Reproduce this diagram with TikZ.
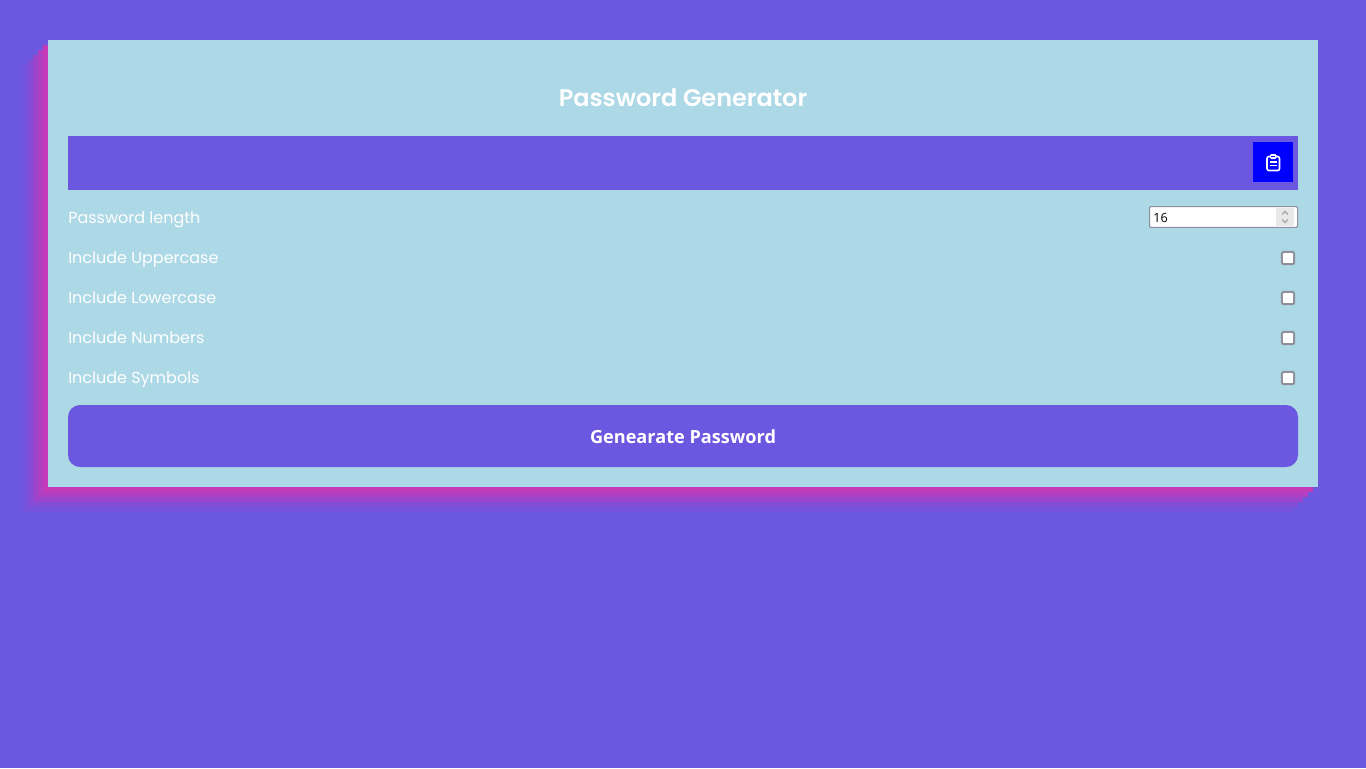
\documentclass[tikz,border=0pt]{standalone}
\usepackage{fontspec}
\setmainfont{Poppins}
\newfontfamily\titlefont{Poppins SemiBold}
\newfontfamily\btnfont{Open Sans}
\newfontfamily\inputfont{Open Sans}
\usetikzlibrary{positioning, arrows.meta}
\definecolor{pagebg}{HTML}{6C57E0}
\definecolor{cardbg}{HTML}{ADD8E6}
\definecolor{layerA}{HTML}{C43AB8}
\definecolor{layerB}{HTML}{B03FC2}
\definecolor{layerC}{HTML}{9A45CB}
\definecolor{layerD}{HTML}{844DD5}
\definecolor{layerE}{HTML}{7452DC}
\definecolor{boxedge}{HTML}{8F8F9D}
\tikzset{
  rowlabel/.style={anchor=base west, inner sep=0pt, text=white, font=\fontsize{12}{14}\selectfont},
  checkbox/.style={draw=boxedge, fill=white, line width=1.5pt, rounded corners=1.5pt, minimum size=9.2pt, inner sep=0pt}
}
\begin{document}
\begin{tikzpicture}[x=0.75pt, y=-0.75pt]
\useasboundingbox (0,0) rectangle (1366,768);
\fill[pagebg] (0,0) rectangle (1366,768);
% stepped shadow layers, outermost first
\foreach \n/\col in {5/layerE,4/layerD,3/layerC,2/layerB,1/layerA}
\fill[\col] (48-5*\n,40+5*\n) rectangle (1318-5*\n,487+5*\n);
% card
\fill[cardbg] (48,40) rectangle (1318,487);
\node[text=white, font=\titlefont\fontsize{18}{22}\selectfont] (title) at (683,97.5) {Password Generator};
% result bar
\fill[pagebg] (68,136) rectangle (1298,190);
\node[fill=blue, minimum size=30pt, inner sep=0pt] (copybtn) at (1273,162) {};
% clipboard icon
\draw[white, line width=1.2pt, rounded corners=1.5pt] (1267,156.5) rectangle (1279.5,170.5);
\fill[white, rounded corners=1pt] (1270,154) rectangle (1276.5,159);
\fill[blue] (1271.3,155.5) rectangle (1275.2,157.2);
\draw[white, line width=1pt] (1270,162) -- (1276.5,162) (1270,165.5) -- (1276.5,165.5);
% length input
\node[draw=boxedge, fill=white, line width=0.75pt, rounded corners=1pt, minimum width=111pt, minimum height=15.7pt, inner sep=0pt] (lengthbox) at (1223.5,217) {};
\node[anchor=west, inner sep=0pt, text=black, font=\inputfont\fontsize{9.5}{11}\selectfont] (lengthval) at (1153,217.5) {16};
\fill[gray!18] (1276,208) rectangle (1294,226);
\draw[gray!70, line width=0.9pt] (1282,214.5) -- (1285,211.5) -- (1288,214.5);
\draw[gray!70, line width=0.9pt] (1282,219.5) -- (1285,222.5) -- (1288,219.5);
% option rows
\node[rowlabel] (lenlabel) at (68,223.4) {Password length};
\foreach \y/\descr in {257.5/Uppercase, 297.5/Lowercase, 337.5/Numbers, 377.5/Symbols}{
\node[rowlabel] (lab\descr) at (68,\y+5.9) {Include \descr};
\node[checkbox] (chk\descr) at (1288,\y+0.5) {};
}
% generate button
\fill[pagebg, rounded corners=9pt] (68,405) rectangle (1298,467);
\node[text=white, font=\btnfont\fontsize{13.6}{16}\selectfont\bfseries] (genbtn) at (683,436.5) {Genearate Password};
\end{tikzpicture}
\end{document}
